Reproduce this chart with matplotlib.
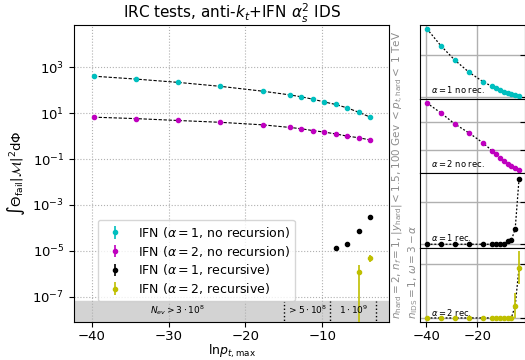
import numpy as np
import matplotlib
matplotlib.use("Agg")
import matplotlib.pyplot as plt

# ln p_t,max sample points
lnpt = [-39.75, -34.25, -28.75, -23.25, -17.75, -14.25, -12.75, -11.25, -9.75, -8.25, -6.75, -5.25, -3.75]

a1_norec = [410, 307, 220, 148, 91, 63, 52, 41, 31, 24, 17, 11, 6.7]
a2_norec = [6.7, 5.8, 4.8, 4.0, 3.1, 2.4, 2.1, 1.75, 1.5, 1.25, 1.0, 0.85, 0.68]
a1_rec = [0, 0, 0, 0, 0, 0, 0, 0, 0, 1.35e-5, 1.9e-5, 7.3e-5, 3.1e-4]
a1_rec_err = [0, 0, 0, 0, 0, 0, 0, 0, 0, 0.35e-5, 0.4e-5, 0.5e-5, 1.0e-5]
a2_rec = [0, 0, 0, 0, 0, 0, 0, 0, 0, 0, 0, 1.15e-6, 4.7e-6]
a2_rec_err = [0, 0, 0, 0, 0, 0, 0, 0, 0, 0, 0, 1.2e-6, 1.55e-6]

band_edges = [-15, -9, -3]
band_labels = [r"$N_{ev} > 3\cdot10^8$", r"$> 5\cdot10^8$", r"$1\cdot10^9$"]
band_label_x = [-28.8, -12.0, -5.9]

plt.rcParams["font.size"] = 9.5

x = np.array(lnpt)
series = [
    (np.array(a1_norec), np.array(a1_norec) * 0.005, "c", r"IFN ($\alpha=1$, no recursion)", r"$\alpha=1$ no rec.", True),
    (np.array(a2_norec), np.array(a2_norec) * 0.005, "m", r"IFN ($\alpha=2$, no recursion)", r"$\alpha=2$ no rec.", True),
    (np.array(a1_rec), np.array(a1_rec_err), "k", r"IFN ($\alpha=1$, recursive)", r"$\alpha=1$ rec.", False),
    (np.array(a2_rec), np.array(a2_rec_err), "y", r"IFN ($\alpha=2$, recursive)", r"$\alpha=2$ rec.", False),
]

bottom, top = 0.106, 0.9306

fig = plt.figure(figsize=(5.25, 3.6), dpi=100)
ax = fig.add_axes([0.141, bottom, 0.600, top - bottom])

xlim = (-42.3, -1.3)
ylo, yhi = 8e-9, 7e4
band_top = 6.5e-8

for y, err, col, lab, short, line in series:
    m = y > 0
    ax.errorbar(x[m], y[m], yerr=err[m], fmt="o", color=col, ms=3, elinewidth=1.2, label=lab, zorder=3)
    if line:
        ax.plot(x, y, color="k", ls=(0, (3, 1.5)), lw=0.8, zorder=2)

ax.axhspan(1e-12, band_top, color="lightgray", zorder=1)
for e in band_edges:
    ax.plot([e, e], [1e-12, band_top], color="k", ls=":", lw=1, zorder=2)
for t, xx in zip(band_labels, band_label_x):
    ax.text(xx, 2.6e-8, t, fontsize=6.5, ha="center", va="center", zorder=3)

ax.set_yscale("log")
ax.set_xlim(*xlim)
ax.set_ylim(ylo, yhi)
ax.set_yticks([1e-7, 1e-5, 1e-3, 1e-1, 1e1, 1e3])
ax.yaxis.set_minor_locator(matplotlib.ticker.NullLocator())
ax.set_xticks([-40, -30, -20, -10])
ax.tick_params(axis="x", pad=2.5)
ax.grid(True, ls=":", color="#b0b0b0", lw=0.8)
ax.set_xlabel(r"$\mathrm{ln} p_{t,\max}$", labelpad=0, fontsize=9)
ax.set_ylabel(r"$\int \Theta_{\rm fail} |\mathcal{M}|^2 \mathrm{d}\Phi$")
ax.set_title(r"IRC tests, anti-$k_t$+IFN $\alpha_s^2$ IDS", fontsize=11, pad=5)
ax.legend(loc="lower left", bbox_to_anchor=(0.075, 0.07), fontsize=9, labelspacing=0.3, borderaxespad=0)

fig.text(0.772, 0.113,
         r"$n_{\rm hard} = 2$, $n_f = 1$, $|y_{\rm hard}| < 1.5$, 100 Gev $< p_{t,\rm hard} <$ 1 TeV" + "\n"
         + r"$n_{\rm IDS} = 1$, $\omega = 3-\alpha$",
         rotation=90, ha="center", va="bottom", multialignment="left", fontsize=7.5, color="#8c8c8c")

# small linear panels on the right
h = (top - bottom) / 4
axs = []
for i, (y, err, col, lab, short, line) in enumerate(series):
    a = fig.add_axes([0.8006, bottom + (3 - i) * h, 0.2, h], sharex=axs[0] if axs else None)
    a.errorbar(x, y, yerr=err, fmt="o", color=col, ms=3, elinewidth=1.2, zorder=3)
    a.plot(x, y, color="k", ls=(0, (1.5, 1.5)), lw=0.9, zorder=2)
    a.text(0.1, 0.13, short, transform=a.transAxes, fontsize=6, va="center")
    a.grid(True, ls="-", color="#b0b0b0", lw=1.0)
    a.yaxis.tick_right()
    a.tick_params(axis="y", direction="in", labelright=False)
    a.tick_params(axis="x", pad=2.5)
    if i < 3:
        a.tick_params(axis="x", labelbottom=False)
    axs.append(a)
axs[0].set_xlim(*xlim)

fig.savefig("out.png", dpi=100)
